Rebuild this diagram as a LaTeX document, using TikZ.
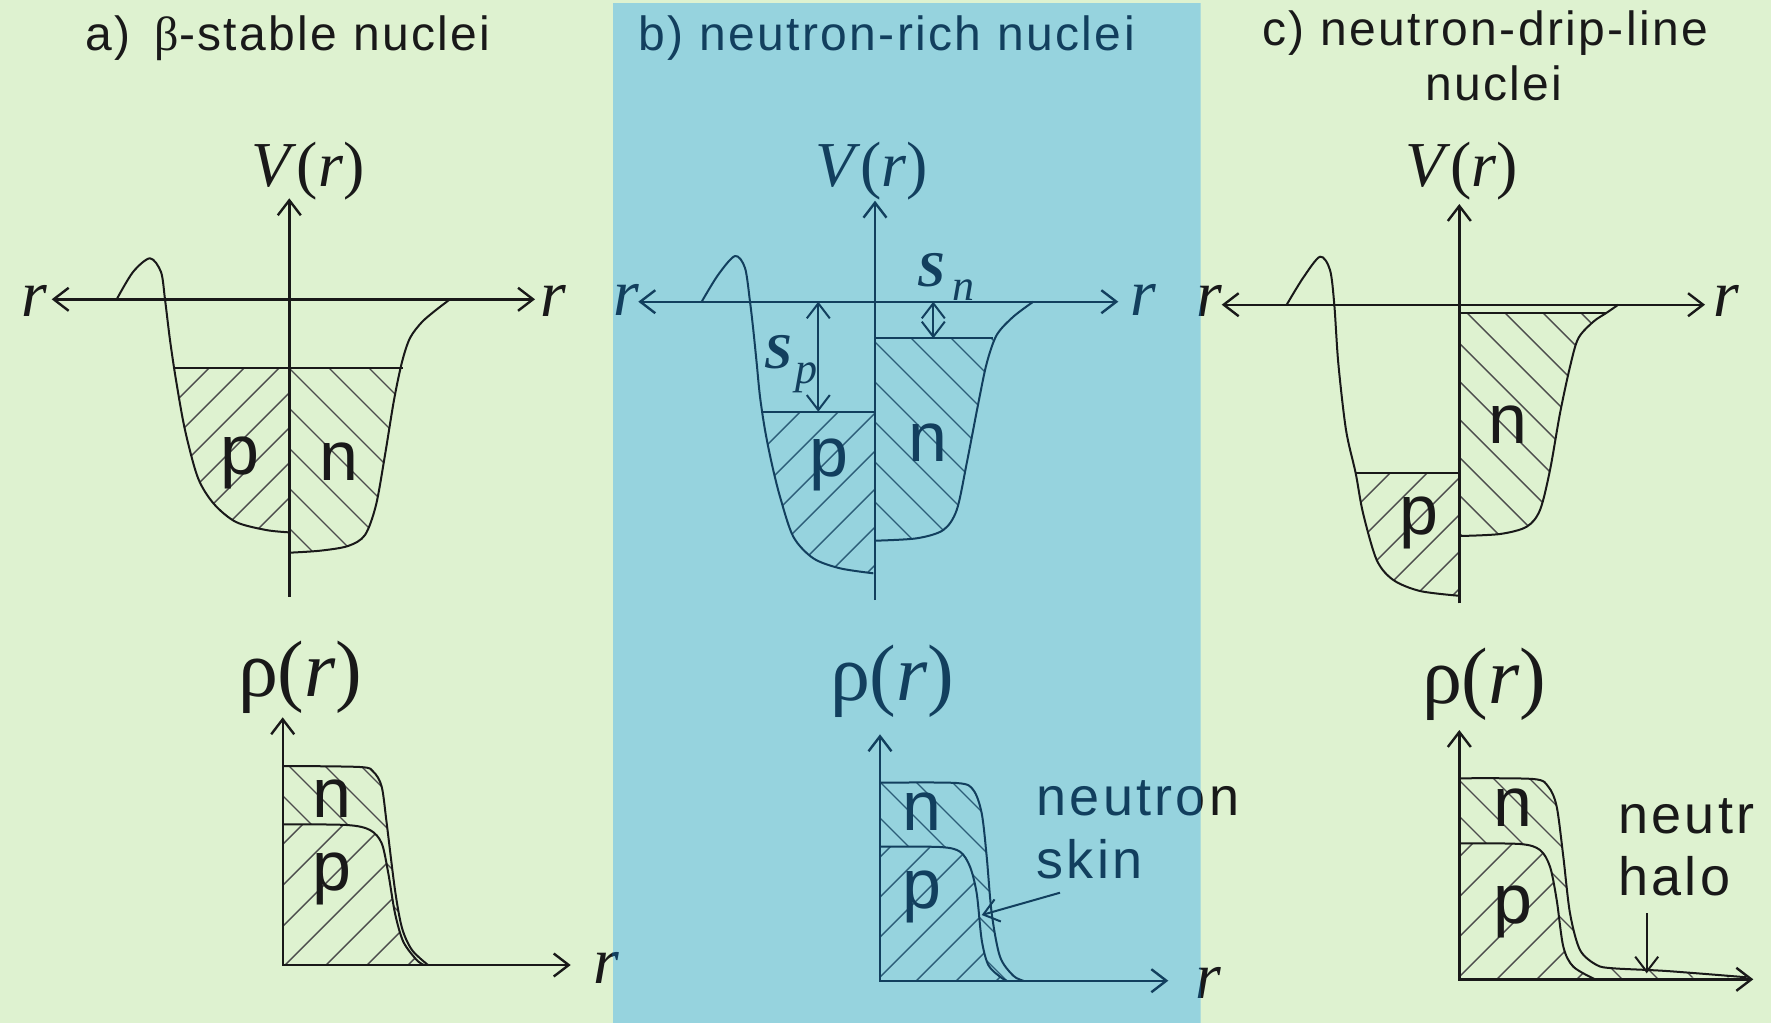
\documentclass[tikz,border=0pt]{standalone}
\usepackage{fontspec}
\setmainfont{Liberation Sans}
\newfontfamily\serifface{Liberation Serif}
\newfontfamily\titlefont[LetterSpace=5]{Liberation Sans}
\newfontfamily\labfont[LetterSpace=6]{Liberation Sans}
\usetikzlibrary{arrows.meta}
\definecolor{greenbg}{HTML}{DEF2D0}
\definecolor{bluebg}{HTML}{96D3DE}
\definecolor{navy}{HTML}{123F5E}
\colorlet{ink}{black!90}
\colorlet{hatchc}{black!70}
\tikzset{
  ax/.style={draw=ink, line width=2.4pt},
  crv/.style={draw=ink, line width=2pt, line join=round},
  lvl/.style={draw=ink, line width=2pt},
  hat/.style={draw=hatchc, line width=1.4pt},
  tip/.style={-{Straight Barb[length=15pt,width=23pt]}},
  dtip/.style={{Straight Barb[length=15pt,width=23pt]}-{Straight Barb[length=15pt,width=23pt]}},
  lbl/.style={inner sep=0pt, outer sep=0pt, text=ink},
  ttl/.style={lbl, font=\titlefont\fontsize{48}{48}\selectfont},
  mth/.style={lbl, anchor=base west, font=\serifface\fontsize{64}{64}\selectfont},
  rho/.style={lbl, anchor=base west, font=\serifface\fontsize{80}{80}\selectfont},
  rlab/.style={lbl, anchor=base west, font=\serifface\itshape\fontsize{66}{66}\selectfont},
  pn/.style={lbl, anchor=base, font=\fontsize{70}{70}\selectfont},
  note/.style={lbl, anchor=base west, font=\labfont\fontsize{54}{54}\selectfont},
  bigS/.style={lbl, anchor=base west, font=\serifface\bfseries\itshape\fontsize{50}{50}\selectfont},
  subS/.style={lbl, anchor=base west, font=\serifface\itshape\fontsize{44}{44}\selectfont},
}
\newcommand\fwd[1]{\foreach \hc in {#1}{\draw[hat] ({\hc-200},200) -- ({\hc-1023},1023);}}
\newcommand\bwd[1]{\foreach \hc in {#1}{\draw[hat] ({\hc+200},200) -- ({\hc+1023},1023);}}
% potential curves
\newcommand\pthaL{plot[smooth,tension=0.5] coordinates {(116.7,299.3) (133,272) (150,258.3) (161,272) (165,299.3) (170,340) (176,380) (185,430) (198,478) (214,504) (236,522) (266,530) (288.3,532.3)}}
\newcommand\pthaN{plot[smooth,tension=0.5] coordinates {(289.3,552.7) (320,550.7) (348,546) (365,535) (376,505) (385,455) (394,400) (402,362) (410,338) (422,322) (436,310) (450,299.3)}}
\newcommand\pthbL{plot[smooth,tension=0.5] coordinates {(701.7,301.7) (718,275) (735,256) (745,268) (750,301.7) (753.3,330) (756.7,363.3) (760,396.7) (765,430) (771.7,463.3) (780,496.7) (793.3,536.7) (813.3,558.3) (840,568.3) (873.3,573.3)}}
\newcommand\pthbN{plot[smooth,tension=0.5] coordinates {(875,540.7) (916.7,538.3) (943.3,530) (956.7,510) (966.7,463.3) (978.3,403.3) (986.7,363.3) (996.7,335) (1013.3,316.7) (1033.3,301.7)}}
\newcommand\pthcL{plot[smooth,tension=0.5] coordinates {(1286.7,304.7) (1303,278) (1320,256.7) (1330,270) (1334.3,304.7) (1338.3,363.3) (1346,430) (1355.7,473.3) (1363,513) (1376.7,560) (1393.3,580) (1420,591) (1458.3,595.7)}}
\newcommand\pthcN{plot[smooth,tension=0.5] coordinates {(1460,536) (1500,534) (1526.7,526.7) (1540,510) (1550,470) (1560,413.3) (1570,366.7) (1578.3,338.3) (1593.3,321.7) (1606.7,312.7) (1618.3,304.7)}}
% density curves
\newcommand\pthaDN{plot[smooth,tension=0.5] coordinates {(282.7,766) (360,767) (373.3,771.7) (381.7,786.7) (386.7,823.3) (395,890) (402,928) (412,950) (428,965)}}
\newcommand\pthaDP{plot[smooth,tension=0.5] coordinates {(282.7,824.3) (346.7,825) (370,830) (381.7,843.3) (388.3,873.3) (395,913.3) (403.3,941.7) (416.7,960) (424,965)}}
\newcommand\pthbDN{plot[smooth,tension=0.5] coordinates {(880,782.7) (956.7,783) (973.3,790) (981.7,813.3) (986.7,856.7) (991.7,913.3) (1000,956.7) (1013.3,975.7) (1023.3,980.7)}}
\newcommand\pthbDP{plot[smooth,tension=0.5] coordinates {(880,846.7) (940,847) (960,851.7) (970,866.7) (976.7,893.3) (981.7,940) (988.3,965) (1000,976.7) (1006.7,980.7)}}
\newcommand\pthcDN{plot[smooth,tension=0.5] coordinates {(1459.3,778.3) (1533.3,779) (1548.3,786.7) (1556.7,806.7) (1563.3,856.7) (1570,913.3) (1580,950) (1596.7,965) (1613.3,968.3) (1666.7,971) (1746.7,977.3)}}
\newcommand\pthcDP{plot[smooth,tension=0.5] coordinates {(1459.3,843.3) (1520,844) (1540,850) (1550,866.7) (1556.7,900) (1563.3,946.7) (1573.3,966.7) (1595,979.3)}}

\newcommand\scene{%
  % ---------- titles ----------
  \node[ttl, anchor=base west] (tA1) at (85,50) {a)};
  \node[ttl, anchor=base west] (tA2) at (154.7,50) {{\serifface β}-stable nuclei};
  \node[ttl, anchor=base west] (tB) at (638.3,50) {b) neutron-rich nuclei};
  \node[ttl, anchor=base west] (tC1) at (1262,45.6) {c) neutron-drip-line};
  \node[ttl, anchor=base] (tC2) at (1494,100) {nuclei};
  % ================= panel a : potential =================
  \begin{scope}
    \clip \pthaL -- (289.3,532.3) -- (289.3,299.3) -- cycle;
    \clip (100,368.3) rectangle (289.3,700);
    \fwd{507,542,...,857}
  \end{scope}
  \begin{scope}
    \clip \pthaN -- (289.3,299.3) -- cycle;
    \clip (289.3,368.3) rectangle (500,700);
    \bwd{-279,-239,...,41}
  \end{scope}
  \draw[crv] \pthaL;
  \draw[crv] \pthaN;
  \coordinate (aFl) at (174,368.3); \coordinate (aFr) at (402.7,368.3);
  \draw[lvl] (aFl) -- (aFr);
  \coordinate (aVb) at (289.3,596.7); \coordinate (aVt) at (289.3,198.3);
  \coordinate (aHl) at (51.7,299.3); \coordinate (aHr) at (535,299.3);
  \draw[ax, tip] (aVb) -- (aVt);
  \draw[ax, dtip] (aHl) -- (aHr);
  \node[mth] (aV) at (251.7,186.7) {\textit{V}(\textit{r})};
  \node[rlab] (arL) at (21.7,316.7) {r};
  \node[rlab] (arR) at (540,316.7) {r};
  \node[pn] (ap) at (240,474) {p};
  \node[pn] (an) at (339,480) {n};
  % ================= panel a : density =================
  \begin{scope}[even odd rule]
    \clip \pthaDN -- (282.7,965) -- cycle;
    \clip (0,0) rectangle (1771,1023) \pthaDP -- (282.7,965) -- cycle;
    \bwd{-549,-513,...,-369}
  \end{scope}
  \begin{scope}
    \clip \pthaDP -- (282.7,965) -- cycle;
    \fwd{1086,1127,...,1414}
  \end{scope}
  \draw[crv] \pthaDN;
  \draw[crv] \pthaDP;
  \coordinate (adT) at (282.7,717.3); \coordinate (adO) at (282.7,965); \coordinate (adR) at (570.7,965);
  \draw[ax, dtip] (adT) -- (adO) -- (adR);
  \node[rho] (arho) at (238,696.7) {ρ(\textit{r})};
  \node[rlab] (adr) at (593,983) {r};
  \node[pn] (adn) at (331.7,817) {n};
  \node[pn] (adp) at (331.7,890) {p};
  % ================= panel b : potential =================
  \begin{scope}
    \clip \pthbL -- (875,573.3) -- (875,301.7) -- cycle;
    \clip (700,411.7) rectangle (875,700);
    \fwd{1174,1212,...,1478}
  \end{scope}
  \begin{scope}
    \clip \pthbN -- (875,301.7) -- cycle;
    \clip (875,338.3) rectangle (1100,700);
    \bwd{333,373,...,653}
  \end{scope}
  \draw[crv] \pthbL;
  \draw[crv] \pthbN;
  \coordinate (bPl) at (763.3,411.7); \coordinate (bPr) at (875,411.7);
  \coordinate (bNl) at (875,338.3); \coordinate (bNr) at (992.7,338.3);
  \draw[lvl] (bPl) -- (bPr);
  \draw[lvl] (bNl) -- (bNr);
  \coordinate (bVb) at (875,600); \coordinate (bVt) at (875,200.7);
  \coordinate (bHl) at (638.3,301.7); \coordinate (bHr) at (1118.3,301.7);
  \draw[ax, tip] (bVb) -- (bVt);
  \draw[ax, dtip] (bHl) -- (bHr);
  \coordinate (bSpT) at (818.3,301.7); \coordinate (bSpB) at (818.3,411.7);
  \coordinate (bSnT) at (933.3,301.7); \coordinate (bSnB) at (933.3,338.3);
  \draw[lvl, dtip] (bSpT) -- (bSpB);
  \draw[lvl, dtip] (bSnT) -- (bSnB);
  \node[bigS] (bSp) at (764,368.3) {S};
  \node[subS] (bSpi) at (795,383.3) {p};
  \node[bigS] (bSn) at (917,286.7) {S};
  \node[subS] (bSni) at (952,300) {n};
  \node[mth] (bV) at (815,186.7) {\textit{V}(\textit{r})};
  \node[rlab] (brL) at (613.3,315) {r};
  \node[rlab] (brR) at (1130,315) {r};
  \node[pn] (bp) at (829,476) {p};
  \node[pn] (bn) at (927.5,461.7) {n};
  % ================= panel b : density =================
  \begin{scope}[even odd rule]
    \clip \pthbDN -- (880,980.7) -- cycle;
    \clip (0,0) rectangle (1771,1023) \pthbDP -- (880,980.7) -- cycle;
    \bwd{26,62,...,242}
  \end{scope}
  \begin{scope}
    \clip \pthbDP -- (880,980.7) -- cycle;
    \fwd{1697,1737,...,2017}
  \end{scope}
  \draw[crv] \pthbDN;
  \draw[crv] \pthbDP;
  \coordinate (bdT) at (880,734.3); \coordinate (bdO) at (880,980.7); \coordinate (bdR) at (1168.3,980.7);
  \draw[ax, dtip] (bdT) -- (bdO) -- (bdR);
  \node[rho] (brho) at (830,700) {ρ(\textit{r})};
  \node[rlab] (bdr) at (1195,998) {r};
  \node[pn] (bdn) at (922.3,830) {n};
  \node[pn] (bdp) at (922.3,908) {p};
  \node[note] (skin1) at (1036.7,815) {neutron};
  \node[note] (skin2) at (1036.7,878.3) {skin};
  \coordinate (skA) at (1060,892.7); \coordinate (skB) at (981.7,915);
  \draw[lvl, tip] (skA) -- (skB);
  % ================= panel c : potential =================
  \begin{scope}
    \clip \pthcL -- (1459.3,595.7) -- (1459.3,304.7) -- cycle;
    \clip (1300,473.3) rectangle (1459.3,700);
    \fwd{1826,1863,...,2085}
  \end{scope}
  \begin{scope}
    \clip \pthcN -- (1459.3,304.7) -- cycle;
    \clip (1459.3,312.7) rectangle (1700,700);
    \bwd{926,964,...,1306}
  \end{scope}
  \draw[crv] \pthcL;
  \draw[crv] \pthcN;
  \coordinate (cPl) at (1355.7,473.3); \coordinate (cPr) at (1459.3,473.3);
  \coordinate (cNl) at (1459.3,312.7); \coordinate (cNr) at (1606.7,312.7);
  \draw[lvl] (cPl) -- (cPr);
  \draw[lvl] (cNl) -- (cNr);
  \coordinate (cVb) at (1459.3,603.3); \coordinate (cVt) at (1459.3,204);
  \coordinate (cHl) at (1221.7,304.7); \coordinate (cHr) at (1705,304.7);
  \draw[ax, tip] (cVb) -- (cVt);
  \draw[ax, dtip] (cHl) -- (cHr);
  \node[mth] (cV) at (1405,186.7) {\textit{V}(\textit{r})};
  \node[rlab] (crL) at (1196.7,316.7) {r};
  \node[rlab] (crR) at (1713,316.7) {r};
  \node[pn] (cp) at (1419,534) {p};
  \node[pn] (cn) at (1508,443.3) {n};
  % ================= panel c : density =================
  \begin{scope}[even odd rule]
    \clip \pthcDN -- (1459.3,979.3) -- cycle;
    \clip (0,0) rectangle (1771,1023) \pthcDP -- (1459.3,979.3) -- cycle;
    \bwd{607,643,...,823}
  \end{scope}
  \begin{scope}
    \clip \pthcDP -- (1459.3,979.3) -- cycle;
    \fwd{2276,2316,...,2596}
  \end{scope}
  \draw[crv] \pthcDN;
  \draw[crv] \pthcDP;
  \coordinate (cdT) at (1459.3,730); \coordinate (cdO) at (1459.3,979.3); \coordinate (cdR) at (1753.3,979.3);
  \draw[ax, dtip] (cdT) -- (cdO) -- (cdR);
  \node[rho] (crho) at (1422,703.3) {ρ(\textit{r})};
  \node[pn] (cdn) at (1513.3,826.7) {n};
  \node[pn] (cdp) at (1513.3,923) {p};
  \node[note] (halo1) at (1618.3,833.3) {neutr};
  \node[note] (halo2) at (1618.3,895) {halo};
  \coordinate (hA) at (1646.7,913.3); \coordinate (hB) at (1646.7,973.3);
  \draw[lvl, tip] (hA) -- (hB);
}

\begin{document}
\begin{tikzpicture}[x=1pt, y=-1pt]
  \useasboundingbox (0,0) rectangle (1771,1023);
  \fill[greenbg] (0,0) rectangle (1771,1023);
  \scene
  \begin{scope}
    \clip (612.7,2.8) rectangle (1200.7,1023);
    \fill[bluebg] (612.7,2.8) rectangle (1200.7,1023);
    \colorlet{ink}{navy}
    \colorlet{hatchc}{navy!80!bluebg}
    \scene
  \end{scope}
\end{tikzpicture}
\end{document}
